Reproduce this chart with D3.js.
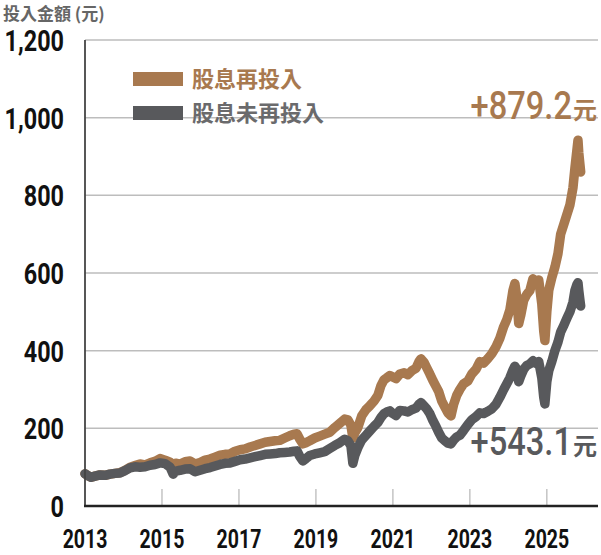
<!DOCTYPE html>
<html><head><meta charset="utf-8">
<script src="https://cdn.jsdelivr.net/npm/d3@7"></script>
<style>
html,body{margin:0;padding:0;background:#fff;}
svg{display:block;}
</style></head>
<body><svg id="c" width="601" height="555"></svg>
<script>
const years = [2013.00,2013.08,2013.16,2013.26,2013.39,2013.52,2013.65,2013.78,2013.91,2014.04,2014.17,2014.30,2014.43,2014.56,2014.69,2014.82,2014.95,2015.08,2015.21,2015.29,2015.36,2015.47,2015.60,2015.73,2015.86,2015.99,2016.12,2016.25,2016.38,2016.51,2016.64,2016.77,2016.90,2017.03,2017.16,2017.29,2017.42,2017.55,2017.68,2017.81,2017.94,2018.06,2018.19,2018.32,2018.43,2018.51,2018.58,2018.66,2018.74,2018.84,2018.97,2019.10,2019.23,2019.36,2019.49,2019.62,2019.75,2019.83,2019.91,2019.96,2020.01,2020.09,2020.19,2020.30,2020.40,2020.51,2020.61,2020.69,2020.77,2020.84,2020.92,2021.00,2021.08,2021.18,2021.29,2021.39,2021.49,2021.60,2021.68,2021.73,2021.81,2021.88,2021.96,2022.04,2022.12,2022.19,2022.27,2022.35,2022.43,2022.51,2022.58,2022.66,2022.74,2022.84,2022.95,2023.05,2023.16,2023.26,2023.36,2023.47,2023.57,2023.68,2023.78,2023.88,2023.96,2024.04,2024.12,2024.17,2024.22,2024.27,2024.32,2024.40,2024.48,2024.56,2024.64,2024.71,2024.79,2024.87,2024.92,2024.95,2025.00,2025.05,2025.13,2025.21,2025.29,2025.36,2025.44,2025.52,2025.60,2025.68,2025.73,2025.78,2025.81,2025.83,2025.86,2025.88];
const reinvested = [83,78,74,77,80,79,82,84,86,92,100,104,108,106,111,115,122,118,113,104,110,108,114,116,108,112,118,121,126,131,133,134,141,145,147,152,156,160,164,166,168,169,175,181,185,186,172,160,163,168,175,180,185,190,202,213,224,222,208,175,188,202,232,248,258,270,285,310,325,330,336,332,328,340,343,338,348,355,372,379,370,356,340,323,308,295,270,255,240,232,262,285,300,315,322,340,352,372,368,380,392,410,432,462,480,505,555,573,538,470,490,530,545,555,585,575,582,520,450,426,500,555,588,615,650,700,725,750,775,820,870,915,942,910,880,860];
const notReinvested = [83,78,74,77,80,79,82,84,85,91,98,101,100,101,105,107,111,109,100,82,90,92,95,96,88,92,96,99,103,107,110,111,115,119,121,124,127,130,133,134,135,137,138,139,141,142,128,116,122,130,134,137,140,148,156,163,172,168,155,110,130,150,170,182,193,205,215,228,238,242,245,238,233,246,245,242,248,252,262,266,258,250,238,220,205,190,175,168,162,160,170,178,182,195,210,222,230,240,238,244,250,262,280,300,315,330,350,360,352,320,334,352,362,366,374,368,372,330,280,263,320,348,372,400,422,448,465,483,500,525,555,570,575,555,530,515];
const seriesNames = ["股息再投入","股息未再投入"];
const yTicks = [0,200,400,600,800,1000,1200];
const xTicks = [2013,2015,2017,2019,2021,2023,2025];
const endLabels = ["+879.2","+543.1"];

const colors = ["#a8794f","#58595c"];
const svg = d3.select("#c");
const L = 85, R = 598, T = 40, B = 506;
const x = d3.scaleLinear().domain([2013, 2026.33]).range([L, R]);
const y = d3.scaleLinear().domain([0, 1200]).range([B, T]);

// gridlines
svg.append("g").selectAll("line").data(yTicks.filter(d=>d>0)).join("line")
  .attr("x1", L).attr("x2", R).attr("y1", d=>y(d)).attr("y2", d=>y(d))
  .attr("stroke", "#bdbdbd").attr("stroke-width", 1.5);
// x tick marks
svg.append("g").selectAll("line").data(xTicks.slice(1)).join("line")
  .attr("x1", d=>x(d)).attr("x2", d=>x(d)).attr("y1", B-17).attr("y2", B)
  .attr("stroke", "#c4c4c4").attr("stroke-width", 1.5);

// y labels
const condensed = 0.78;
svg.append("g").selectAll("text").data(yTicks).join("text")
  .attr("transform", d=>`translate(64,${y(d)+11}) scale(${condensed},1)`)
  .attr("text-anchor","end")
  .style("font-family","Roboto, 'Liberation Sans', sans-serif")
  .style("font-weight","700").style("font-size","30px").attr("fill","#111")
  .text(d=>d3.format(",")(d));
// x labels
svg.append("g").selectAll("text").data(xTicks).join("text")
  .attr("transform", d=>`translate(${x(d)},548) scale(${condensed},1)`)
  .attr("text-anchor","middle")
  .style("font-family","Roboto, 'Liberation Sans', sans-serif")
  .style("font-weight","700").style("font-size","25px").attr("fill","#111")
  .text(d=>d);

// lines
const line = d3.line().x((d,i)=>x(years[i])).y(d=>y(d)).curve(d3.curveLinear);
[reinvested, notReinvested].forEach((s,k)=>{
  svg.append("path").datum(s).attr("d", line)
    .attr("fill","none").attr("stroke", colors[k]).attr("stroke-width", 9.5)
    .attr("stroke-linejoin","round").attr("stroke-linecap","round");
});

// axes lines
svg.append("line").attr("x1",L).attr("x2",L).attr("y1",T).attr("y2",B)
  .attr("stroke","#444").attr("stroke-width",1.8);
svg.append("line").attr("x1",L-1).attr("x2",R).attr("y1",B).attr("y2",B)
  .attr("stroke","#222").attr("stroke-width",2.5);

// title
svg.append("text").attr("x",3).attr("y",20)
  .style("font-family","'Noto Sans CJK TC', sans-serif").style("font-weight","700")
  .style("font-size","17px").attr("fill","#666").text("投入金額 (元)");

// legend
const lg = svg.append("g");
seriesNames.forEach((n,k)=>{
  const cy = 79 + k*34;
  lg.append("rect").attr("x",133).attr("y",cy-7).attr("width",50).attr("height",14).attr("fill",colors[k]);
  lg.append("text").attr("x",192).attr("y",cy+8)
    .style("font-family","'Noto Sans CJK TC', sans-serif").style("font-weight","700")
    .style("font-size","22px").attr("fill", k===0? colors[0] : "#6a6a6c").text(n);
});

// end labels
const endY = [119, 455];
endLabels.forEach((t,k)=>{
  const g = svg.append("g").attr("transform",`translate(597,${endY[k]})`);
  g.append("text").attr("x",0).attr("y",0).attr("text-anchor","end")
    .style("font-family","'Noto Sans CJK TC', sans-serif").style("font-weight","700")
    .style("font-size","24px").attr("fill",colors[k]).text("元");
  g.append("text").attr("transform","translate(-25,0) scale(0.86,1)").attr("text-anchor","end")
    .style("font-family","Roboto, sans-serif").style("font-weight","500")
    .style("font-size","38px").attr("fill",colors[k]).text(t);
});
</script></body></html>
